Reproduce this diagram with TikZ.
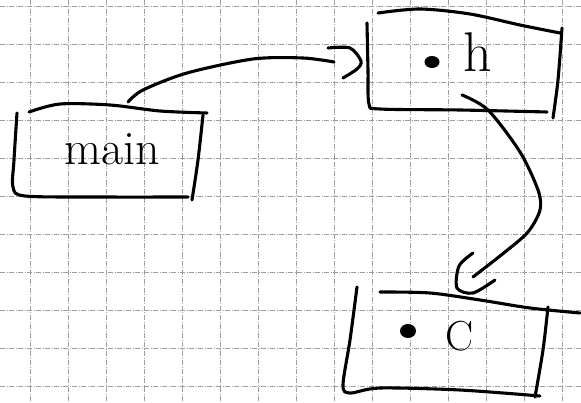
\documentclass[tikz,border=0pt]{standalone}
\usetikzlibrary{shapes.geometric}
\begin{document}
\begin{tikzpicture}[x=1pt,y=-1pt,
  ink/.style={line width=3.1pt,line cap=round,line join=round,black},
  gridline/.style={gray!75,line width=0.7pt,dash pattern=on 5pt off 1.5pt on 1pt off 1.5pt},
  dotmark/.style={fill=black,ellipse,inner sep=0pt},
  lbl/.style={inner sep=0pt,text=black}]
\fill[white] (0,0) rectangle (581,403);
\useasboundingbox (0,0) rectangle (581,403);
% grid
\foreach \gx in {0,...,14} { \draw[gridline] (30+38*\gx,0) -- (30+38*\gx,403); }
\foreach \gy in {0,...,10} { \draw[gridline] (0,6+38*\gy) -- (581,6+38*\gy); }
% main box
\draw[ink] plot[smooth] coordinates {(29,112) (60,104) (110,105) (160,111) (207,113)};
\draw[ink] plot[smooth] coordinates {(17,113) (14,160) (13,187) (25,196) (100,197) (188,197)};
\draw[ink] plot[smooth] coordinates {(203,115) (198,160) (192,200)};
\node[lbl,font=\fontsize{48}{48}\selectfont] (mainlbl) at (112,149) {main};
% h box
\draw[ink] plot[smooth] coordinates {(378,13) (420,9) (470,14) (520,25) (560,33)};
\draw[ink] plot[smooth] coordinates {(367,23) (368,70) (369,104) (380,109) (460,110) (547,112)};
\draw[ink] plot[smooth] coordinates {(562,28) (558,80) (553,118)};
\node[dotmark,minimum width=15pt,minimum height=12pt] (hdot) at (432,62) {};
\node[lbl,font=\fontsize{56}{56}\selectfont] (hlbl) at (478,52) {h};
% c box
\draw[ink] plot[smooth] coordinates {(380,292) (430,293) (480,300) (530,308) (580,313)};
\draw[ink] plot[smooth] coordinates {(357,287) (350,340) (343,385) (350,393) (380,388) (460,390) (540,396)};
\draw[ink] plot[smooth] coordinates {(548,307) (543,350) (535,397)};
\node[dotmark,minimum width=16pt,minimum height=14pt] (cdot) at (408,331) {};
\node[lbl,font=\fontsize{42}{42}\selectfont] (clbl) at (460,336) {C};
% connector main -> h
\coordinate (a1) at (128,102);
\coordinate (a2) at (334,62);
\draw[ink] plot[smooth] coordinates {(a1) (143,90) (187,73) (253,59) (303,58) (a2)};
\draw[ink] plot[smooth] coordinates {(328,48) (350,48) (361,61) (357,69) (343,78)};
% connector h -> c
\coordinate (b1) at (462,95);
\coordinate (b2) at (473,277);
\draw[ink] plot[smooth] coordinates {(b1) (488,110) (520,152) (538,190) (540,210) (528,232) (505,252) (b2)};
\draw[ink] plot[smooth] coordinates {(473,253) (459,266) (457,288) (473,293) (495,280)};
\end{tikzpicture}
\end{document}
